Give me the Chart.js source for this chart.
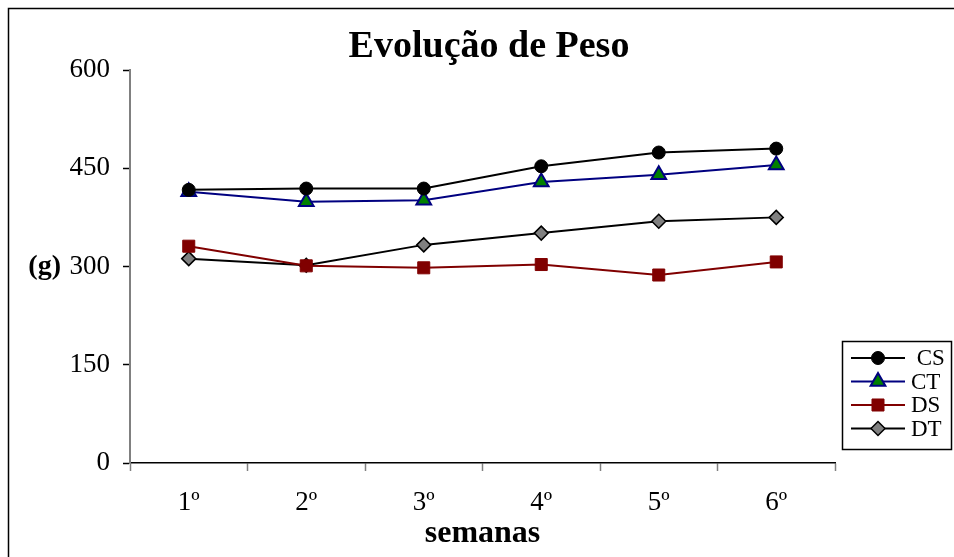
<!DOCTYPE html>
<html>
<head>
<meta charset="utf-8">
<title>Evolução de Peso</title>
<script src="https://cdn.jsdelivr.net/npm/chart.js@4/dist/chart.umd.min.js"></script>
<style>
  html, body { margin: 0; padding: 0; background: #ffffff; }
  #wrap { width: 954px; height: 557px; }
</style>
</head>
<body>
<div id="wrap"><canvas id="c" width="954" height="557"></canvas></div>
<script>
// Weekly weights (g) for the four groups
const semanas = ['1º', '2º', '3º', '4º', '5º', '6º'];
const cs = [417, 419, 419, 453, 474, 480];
const ct = [414, 399, 401, 429, 440, 455];
const ds = [331, 301, 298, 303, 287, 307];
const dt = [312, 302, 333, 351, 369, 375];
const yTicks = [0, 150, 300, 450, 600];

const SERIF = '"Liberation Serif", "Times New Roman", serif';

// Marker shapes for the legend, sized like the plotted points
function marker(ctx, style, x, y, r) {
  ctx.beginPath();
  if (style === 'circle') {
    ctx.arc(x, y, r, 0, Math.PI * 2);
  } else if (style === 'triangle') {
    ctx.moveTo(x, y - r);
    ctx.lineTo(x + r * 0.866, y + r * 0.5);
    ctx.lineTo(x - r * 0.866, y + r * 0.5);
  } else if (style === 'rect') {
    const s = r * Math.SQRT1_2;
    ctx.rect(x - s, y - s, 2 * s, 2 * s);
  } else if (style === 'rectRot') {
    ctx.moveTo(x, y - r);
    ctx.lineTo(x + r, y);
    ctx.lineTo(x, y + r);
    ctx.lineTo(x - r, y);
  }
  ctx.closePath();
  ctx.fill();
  ctx.stroke();
}

const decorations = {
  id: 'decorations',
  beforeDraw(chart) {
    const ctx = chart.ctx;
    ctx.save();
    ctx.fillStyle = '#ffffff';
    ctx.fillRect(0, 0, chart.width, chart.height);
    // outer frame (runs past the right and bottom edges)
    ctx.strokeStyle = '#000000';
    ctx.lineWidth = 1.5;
    ctx.strokeRect(8.5, 8.5, chart.width + 20, chart.height + 20);
    ctx.restore();
  },
  afterDraw(chart) {
    const ctx = chart.ctx;
    ctx.save();
    // title
    ctx.fillStyle = '#000000';
    ctx.font = 'bold 38px ' + SERIF;
    ctx.textAlign = 'center';
    ctx.textBaseline = 'alphabetic';
    ctx.fillText('Evolução de Peso', 489, 57);

    // unit label beside the value axis
    const y300 = chart.scales.y.getPixelForValue(300);
    ctx.font = 'bold 28px ' + SERIF;
    ctx.textAlign = 'right';
    ctx.textBaseline = 'middle';
    ctx.fillText('(g)', 61, y300);

    // legend
    const box = { x: 842, y: 341, w: 109, h: 108 };
    ctx.lineWidth = 1.5;
    ctx.strokeStyle = '#000000';
    ctx.strokeRect(box.x + 0.5, box.y + 0.5, box.w, box.h);
    ctx.font = '23px ' + SERIF;
    ctx.textAlign = 'left';
    ctx.textBaseline = 'middle';
    chart.data.datasets.forEach((d, i) => {
      const ry = box.y + 17 + i * 23.5;
      ctx.strokeStyle = d.borderColor;
      ctx.lineWidth = 2;
      ctx.beginPath();
      ctx.moveTo(851, ry);
      ctx.lineTo(905, ry);
      ctx.stroke();
      ctx.fillStyle = d.pointBackgroundColor;
      ctx.strokeStyle = d.pointBorderColor;
      ctx.lineWidth = d.pointBorderWidth;
      marker(ctx, d.pointStyle, 878, ry, d.pointRadius);
      ctx.fillStyle = '#000000';
      ctx.fillText(d.label, 911, ry + 1);
    });
    ctx.restore();
  }
};

new Chart(document.getElementById('c'), {
  type: 'line',
  data: {
    labels: semanas,
    datasets: [
      { label: ' CS', data: cs, borderColor: '#000000', borderWidth: 2,
        pointStyle: 'circle', pointRadius: 6.5, pointBackgroundColor: '#000000',
        pointBorderColor: '#000000', pointBorderWidth: 1 },
      { label: 'CT', data: ct, borderColor: '#000080', borderWidth: 2,
        pointStyle: 'triangle', pointRadius: 8.5, pointBackgroundColor: '#008000',
        pointBorderColor: '#000080', pointBorderWidth: 2 },
      { label: 'DS', data: ds, borderColor: '#800000', borderWidth: 2,
        pointStyle: 'rect', pointRadius: 8.5, pointBackgroundColor: '#800000',
        pointBorderColor: '#800000', pointBorderWidth: 1 },
      { label: 'DT', data: dt, borderColor: '#000000', borderWidth: 2,
        pointStyle: 'rectRot', pointRadius: 7, pointBackgroundColor: '#808080',
        pointBorderColor: '#000000', pointBorderWidth: 1.5 }
    ]
  },
  options: {
    responsive: false,
    devicePixelRatio: 1,
    animation: false,
    elements: { line: { tension: 0 } },
    layout: { padding: { top: 70, right: 119, bottom: 0, left: 0 } },
    plugins: {
      legend: { display: false },
      title: { display: false },
      tooltip: { enabled: false }
    },
    scales: {
      x: {
        offset: true,
        grid: { display: true, drawOnChartArea: false, offset: true,
                tickColor: '#808080', tickLength: 8, tickWidth: 1.5 },
        border: { display: true, color: '#000000', width: 1.5 },
        ticks: { color: '#000000', font: { family: SERIF, size: 27 }, padding: 16,
                 maxRotation: 0, autoSkip: false },
        title: { display: true, text: 'semanas', color: '#000000',
                 font: { family: SERIF, size: 32, weight: 'bold' },
                 padding: { top: 0, bottom: 4 } },
        afterFit(scale) { scale.height = 94; }
      },
      y: {
        min: 0, max: 600,
        afterBuildTicks(scale) { scale.ticks = yTicks.map(v => ({ value: v })); },
        grid: { display: true, drawOnChartArea: false,
                tickColor: '#000000', tickLength: 7, tickWidth: 1.5 },
        border: { display: true, color: '#808080', width: 2 },
        ticks: { color: '#000000', font: { family: SERIF, size: 27 }, padding: 13 },
        afterFit(scale) { scale.width = 130; }
      }
    }
  },
  plugins: [decorations]
});
</script>
</body>
</html>
